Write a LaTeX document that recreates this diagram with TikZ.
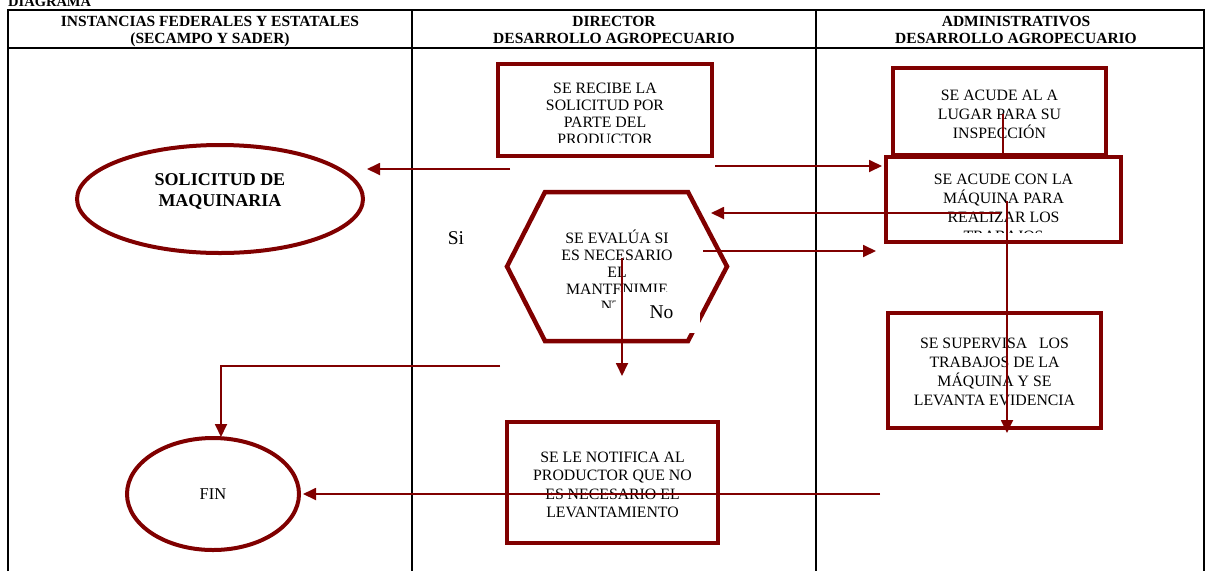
\documentclass[tikz,border=0pt]{standalone}
\usepackage{fontspec}
\setmainfont{Liberation Serif}
\usetikzlibrary{arrows.meta,shapes.geometric}
\definecolor{maroon}{RGB}{128,0,0}
\newcommand{\tp}{\rule{0pt}{16pt}}
\begin{document}
\begin{tikzpicture}[x=1pt,y=-1pt,
  grid/.style={draw=black,line width=1.4pt},
  hdr/.style={font=\fontsize{15.5}{16.3}\selectfont\bfseries,align=center,inner sep=0pt,anchor=north},
  box/.style={draw=maroon,line width=4.5pt,fill=white,inner sep=0pt},
  txt/.style={font=\fontsize{15.8}{17}\selectfont,align=center,inner sep=0pt,anchor=north},
  txtw/.style={font=\fontsize{15.8}{19}\selectfont,align=center,inner sep=0pt,anchor=north},
  oval/.style={draw=maroon,line width=4pt,ellipse,fill=white,inner sep=0pt},
  conn/.style={draw=maroon,line width=1.8pt},
  arr/.style={conn,-{Triangle[length=13pt,width=12pt]}},
  lbl/.style={font=\fontsize{19.5}{22}\selectfont,inner sep=1pt}]
\useasboundingbox (0,0) rectangle (1206,571);
\fill[white] (0,0) rectangle (1206,571);
% title
\node[anchor=base west,font=\fontsize{14.5}{15}\selectfont\bfseries,inner sep=0pt] (title) at (8,6.7) {DIAGRAMA};
% table
\draw[grid] (8,571) -- (8,10) -- (1204,10) -- (1204,571);
\draw[grid] (8,48) -- (1204,48);
\draw[grid] (412,10) -- (412,571);
\draw[grid] (816,10) -- (816,571);
\node[hdr] (h1) at (210,10.7) {\tp INSTANCIAS FEDERALES Y ESTATALES\\(SECAMPO Y SADER)};
\node[hdr] (h2) at (614,10.7) {\tp DIRECTOR\\DESARROLLO AGROPECUARIO};
\node[hdr] (h3) at (1016,10.7) {\tp ADMINISTRATIVOS\\DESARROLLO AGROPECUARIO};

% ellipses
\node[oval,minimum width=286pt,minimum height=108pt] (sol) at (220,199) {};
\node[font=\fontsize{18}{21.7}\selectfont\bfseries,align=center,inner sep=0pt,anchor=north] (solt) at (220,169) {\tp SOLICITUD DE\\MAQUINARIA};
\node[oval,minimum width=172pt,minimum height=112pt,font=\fontsize{16.5}{18}\selectfont] (fin) at (213,494) {FIN};

% box 1
\node[box,minimum width=214pt,minimum height=92pt] (b1) at (605,110) {};
\begin{scope}
\clip (503,69) rectangle (707,142.7);
\node[txt] (t1) at (605,77) {\tp SE RECIBE LA\\SOLICITUD POR\\PARTE DEL\\PRODUCTOR};
\end{scope}

% box inspection
\node[box,minimum width=213pt,minimum height=87pt] (b2) at (999.5,111.5) {};
\node[txtw] (t2) at (999.5,84) {\tp SE ACUDE AL A\\LUGAR PARA SU\\INSPECCIÓN};

% box maquina
\node[box,minimum width=235pt,minimum height=85pt] (b3) at (1003.5,199.5) {};
\begin{scope}
\clip (890,161) rectangle (1117,232);
\node[txtw] (t3) at (1003.5,168.5) {\tp SE ACUDE CON LA\\MÁQUINA PARA\\REALIZAR LOS\\TRABAJOS};
\end{scope}

% hexagon
\draw[draw=maroon,line width=4.5pt,fill=white,line join=miter]
  (507,266.5) -- (545,192) -- (688,192) -- (727,266.5) -- (688,341) -- (545,341) -- cycle;
\begin{scope}
\clip (507,266.5) -- (545,192) -- (688,192) -- (727,266.5) -- (688,341) -- (545,341) -- cycle;
\clip (480,190) rectangle (760,307);
\node[txt] (t4) at (617,227.3) {\tp SE EVALÚA SI\\ES NECESARIO\\EL\\MANTENIMIE\\NTO};
\end{scope}

% box supervisa
\node[box,minimum width=213pt,minimum height=115pt] (b4) at (994.5,370.5) {};
\node[txtw] (t5) at (994.5,332) {\tp SE SUPERVISA\ \ \ LOS\\TRABAJOS DE LA\\MÁQUINA Y SE\\LEVANTA EVIDENCIA};

% box notifica
\node[box,minimum width=211pt,minimum height=121pt] (b5) at (612.5,482.5) {};
\node[font=\fontsize{15.8}{18.5}\selectfont,align=center,inner sep=0pt,anchor=north] (t6) at (612.5,446) {\tp SE LE NOTIFICA AL\\PRODUCTOR QUE NO\\ES NECESARIO EL\\LEVANTAMIENTO};

% labels
\node[lbl] (si) at (456,238) {Si};
\node[lbl,fill=white,minimum width=84pt,minimum height=41pt] (no) at (658,312.5) {\hspace{7pt}No};

% connector coordinates
\coordinate (a1s) at (510,169);
\coordinate (a1e) at (367,169);
\coordinate (a2s) at (715,166);
\coordinate (a2e) at (882,166);
\coordinate (a3s) at (1003,114);
\coordinate (a3e) at (1003,155);
\coordinate (a4s) at (1007,201);
\coordinate (a4e) at (1007,433);
\coordinate (a5s) at (1000,213);
\coordinate (a5e) at (711,213);
\coordinate (a6s) at (703,251);
\coordinate (a6e) at (876,251);
\coordinate (a7s) at (622,258);
\coordinate (a7e) at (622,376);
\coordinate (a8s) at (500,366);
\coordinate (a8e) at (221,437);
\coordinate (a9s) at (880,494);
\coordinate (a9e) at (303,494);

\draw[arr] (a1s) -- (a1e);
\draw[arr] (a2s) -- (a2e);
\draw[conn] (a3s) -- (a3e);
\draw[arr] (a4s) -- (a4e);
\draw[arr] (a5s) -- (a5e);
\draw[arr] (a6s) -- (a6e);
\draw[arr] (a7s) -- (a7e);
\draw[arr] (a8s) -| (a8e);
\draw[arr] (a9s) -- (a9e);
\end{tikzpicture}
\end{document}
